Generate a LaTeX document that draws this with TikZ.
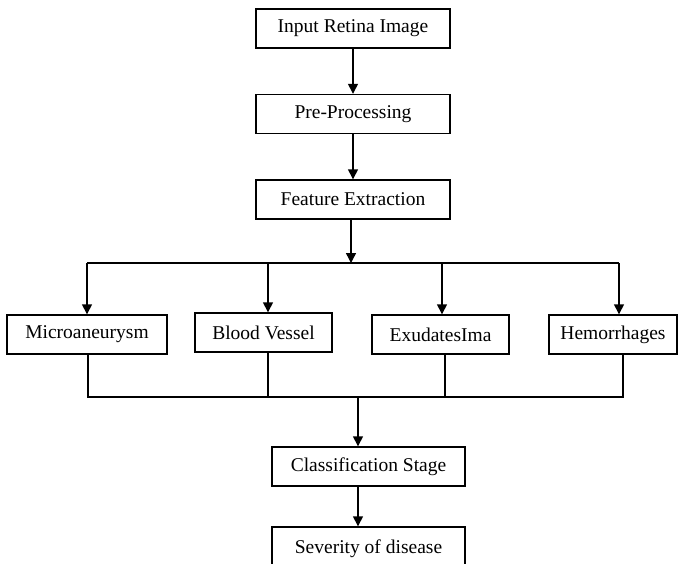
\documentclass[tikz,border=0pt]{standalone}
\usepackage{fontspec}
\setmainfont{Liberation Serif}
\usetikzlibrary{arrows.meta}
\begin{document}
\begin{tikzpicture}[x=1pt,y=-1pt,
  stage/.style={draw, line width=1.4pt, minimum width=194pt, minimum height=39pt,
    inner sep=0pt, font=\fontsize{19.5}{21}\selectfont},
  leaf/.style={stage, minimum height=39pt},
  link/.style={line width=1.4pt},
  arr/.style={link, -{Triangle[length=10pt,width=10pt]}}]
\useasboundingbox (0,0) rectangle (678,563);
\clip (0,0) rectangle (678,563);

% main pipeline
\node[stage] (inp) at (353,28.5) {Input Retina Image};
\node[stage] (pre) at (353,114) {Pre-Processing};
\node[stage] (fea) at (353,199.5) {Feature Extraction};

% feature branches
\node[leaf, minimum width=160pt] (mic) at (87,334.5) {Microaneurysm};
\node[leaf, minimum width=137pt] (blo) at (263.5,332.5) {Blood Vessel};
\node[leaf, minimum width=137pt] (exu) at (440.5,334.5) {ExudatesIma};
\node[leaf, minimum width=128pt] (hem) at (613,334.5) {Hemorrhages};

% classification and output
\node[stage, minimum width=193pt] (cls) at (368.5,466.5) {Classification Stage};
\node[stage, minimum width=193pt, minimum height=44pt] (sev) at (368.5,549) {Severity of disease};

% split and merge points
\coordinate (hub) at (351,263);
\coordinate (s1) at (87,263);
\coordinate (s2) at (268,263);
\coordinate (s3) at (442,263);
\coordinate (s4) at (619,263);
\coordinate (m1) at (88,397);
\coordinate (m2) at (268,397);
\coordinate (m3) at (445,397);
\coordinate (m4) at (623,397);
\coordinate (join) at (358,397);

\draw[arr] (inp) -- (pre);
\draw[arr] (pre) -- (fea);
\draw[arr] (fea.south -| hub) -- (hub);
\draw[link] (s1) -- (s4);
\draw[arr] (s1) -- (s1 |- mic.north);
\draw[arr] (s2) -- (s2 |- blo.north);
\draw[arr] (s3) -- (s3 |- exu.north);
\draw[arr] (s4) -- (s4 |- hem.north);

\draw[link] (m1 |- mic.south) -- (m1) -- (m4) -- (m4 |- hem.south);
\draw[link] (m2 |- blo.south) -- (m2);
\draw[link] (m3 |- exu.south) -- (m3);
\draw[arr] (join) -- (join |- cls.north);
\draw[arr] (join |- cls.south) -- (join |- sev.north);
\end{tikzpicture}
\end{document}
